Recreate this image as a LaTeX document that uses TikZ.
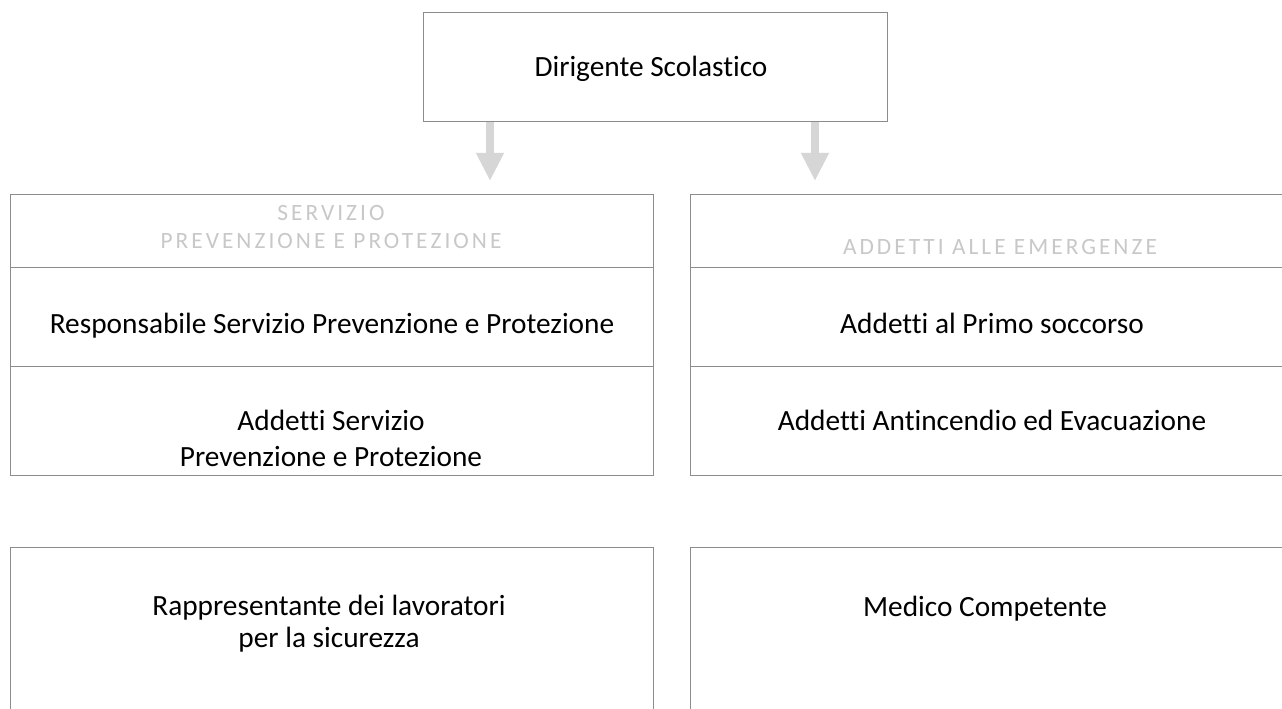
\documentclass[tikz,border=0pt]{standalone}
\usepackage{fontspec}
\setmainfont{Carlito}[RawFeature={-liga;-clig;-dlig}]
\usetikzlibrary{arrows.meta,calc}
\definecolor{linec}{HTML}{8C8C8C}
\definecolor{headc}{HTML}{C8C8C8}
\definecolor{arrc}{HTML}{D6D6D6}
\tikzset{
  px/.style={x=0.75pt,y=-0.75pt},
  frame/.style={draw=linec,line width=0.6pt,inner sep=0pt},
  lbl/.style={font=\fontsize{22}{26}\selectfont,text=black,inner sep=0pt,anchor=base},
  hdr/.style={font=\fontsize{17.5}{20}\selectfont\addfontfeatures{LetterSpace=13},text=headc,inner sep=0pt,anchor=base},
  blk/.style={line width=6pt,color=arrc,-{Triangle[width=19.5pt,length=21pt]}}
}
\begin{document}
\begin{tikzpicture}[px]
\clip (0,0) rectangle (1282,709);
\fill[white] (0,0) rectangle (1282,709);
% top box
\node[frame,anchor=north west,minimum width=348pt,minimum height=81.75pt] (dir) at (423,12) {};
\node[lbl] (dirt) at (651,77) {Dirigente Scolastico};
% left group
\node[frame,anchor=north west,minimum width=482.25pt,minimum height=210.75pt] (spp) at (10,194) {};
\draw[linec,line width=0.6pt] (10,267) -- (653,267);
\draw[linec,line width=0.6pt] (10,366) -- (653,366);
\node[hdr] (spph1) at (331,221) {SERVIZIO};
\node[hdr] (spph2) at (331,249) {PREVENZIONE E PROTEZIONE};
\node[lbl] (rspp) at (332,334) {Responsabile Servizio Prevenzione e Protezione};
\node[lbl] (aspp1) at (331,430) {Addetti Servizio};
\node[lbl] (aspp2) at (331,466) {Prevenzione e Protezione};
% right group
\node[frame,anchor=north west,minimum width=487.5pt,minimum height=210.75pt] (emg) at (690,194) {};
\draw[linec,line width=0.6pt] (690,267) -- (1340,267);
\draw[linec,line width=0.6pt] (690,366) -- (1340,366);
\node[hdr] (emgh) at (1000,255) {ADDETTI ALLE EMERGENZE};
\node[lbl] (aps) at (992,334) {Addetti al Primo soccorso};
\node[lbl] (aae) at (992,430) {Addetti Antincendio ed Evacuazione};
% bottom boxes
\node[frame,anchor=north west,minimum width=482.25pt,minimum height=150pt] (rls) at (10,547) {};
\node[lbl] (rls1) at (329,615) {Rappresentante dei lavoratori};
\node[lbl] (rls2) at (329,647) {per la sicurezza};
\node[frame,anchor=north west,minimum width=487.5pt,minimum height=150pt] (mc) at (690,547) {};
\node[lbl] (mct) at (985,616) {Medico Competente};
% arrows
\coordinate (a1) at (490,181);
\coordinate (a2) at (815,181);
\draw[blk] (dir.south -| a1) -- (a1);
\draw[blk] (dir.south -| a2) -- (a2);
\end{tikzpicture}
\end{document}
